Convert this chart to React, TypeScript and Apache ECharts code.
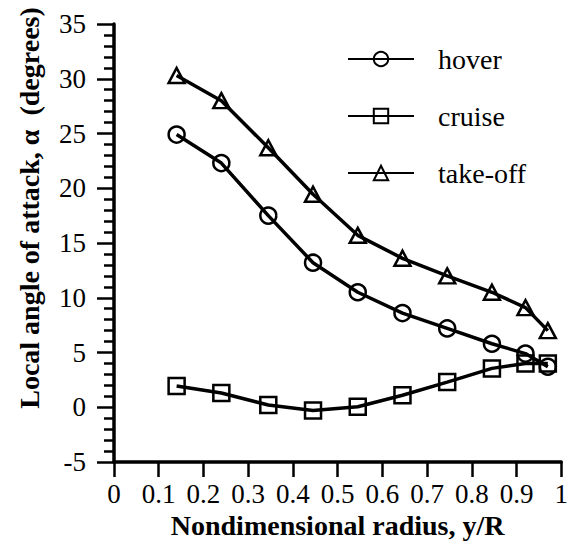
import React, { useEffect, useRef } from "react";
import * as echarts from "echarts";

const radius = [0.14, 0.24, 0.345, 0.445, 0.545, 0.645, 0.745, 0.845, 0.92, 0.97];
const hover = [24.9, 22.3, 17.5, 13.2, 10.5, 8.6, 7.2, 5.8, 4.9, 3.7];
const cruise = [1.95, 1.3, 0.2, -0.3, 0.05, 1.1, 2.3, 3.55, 4.0, 4.0];
const takeoff = [30.3, 28.0, 23.7, 19.45, 15.7, 13.6, 12.0, 10.5, 9.1, 7.0];
const seriesNames = ["hover", "cruise", "take-off"];
const xTitle = "Nondimensional radius, y/R";
const yTitle = "Local angle of attack, \u03b1  (degrees)";

const FONT = "Liberation Serif";

function pairs(ys: number[]) {
  return radius.map((x, i) => [x, ys[i]]);
}

export default function App() {
  const ref = useRef<HTMLDivElement>(null);
  useEffect(() => {
    document.body.style.margin = "0";
    const chart = echarts.init(ref.current!, null, { renderer: "svg" });
    const mk = (name: string, ys: number[], symbol: string, size: any) => ({
      name,
      type: "line",
      data: pairs(ys),
      symbol,
      symbolSize: size,
      showAllSymbol: true,
      lineStyle: { color: "#000", width: 3.5 },
      itemStyle: { color: "rgba(255,255,255,0)", borderColor: "#000", borderWidth: 2.5 },
      emphasis: { disabled: true },
      z: 3,
    });
    chart.setOption({
      animation: false,
      backgroundColor: "#fff",
      textStyle: { fontFamily: FONT },
      grid: { left: 114, right: 3, top: 24, bottom: 87, containLabel: false },
      legend: {
        orient: "vertical",
        left: 342,
        top: 40,
        itemWidth: 66,
        itemHeight: 18,
        itemGap: 29,
        selectedMode: false,
        data: seriesNames,
        textStyle: { fontFamily: FONT, fontSize: 28, color: "#000", padding: [0, 0, 0, 19] },
      },
      xAxis: {
        type: "value",
        min: 0,
        max: 1,
        interval: 0.1,
        name: xTitle,
        nameLocation: "middle",
        nameGap: 32,
        nameTextStyle: { fontFamily: FONT, fontSize: 28, fontWeight: "bold", color: "#000" },
        axisLine: { show: true, onZero: false, lineStyle: { color: "#000", width: 3.5 } },
        axisTick: { show: true, length: 15, lineStyle: { color: "#000", width: 2.5 } },
        axisLabel: {
          fontFamily: FONT,
          fontSize: 27,
          color: "#000",
          margin: 18,
          formatter: (v: number) => String(+v.toFixed(1)),
        },
        splitLine: { show: false },
      },
      yAxis: {
        type: "value",
        min: -5,
        max: 35,
        interval: 5,
        axisLine: { show: true, onZero: false, lineStyle: { color: "#000", width: 3.5 } },
        axisTick: { show: true, length: 17, lineStyle: { color: "#000", width: 2.5 } },
        minorTick: { show: true, splitNumber: 5, length: 10, lineStyle: { color: "#000", width: 2.5 } },
        axisLabel: { fontFamily: FONT, fontSize: 27, color: "#000", margin: 28 },
        splitLine: { show: false },
      },
      graphic: [
        {
          type: "text",
          x: 29,
          y: 208,
          rotation: Math.PI / 2,
          style: {
            text: yTitle,
            fontFamily: FONT,
            fontSize: 28,
            fontWeight: "bold",
            fill: "#000",
            textAlign: "center",
            textVerticalAlign: "middle",
          },
        },
      ],
      series: [
        mk(seriesNames[0], hover, "circle", 16),
        mk(seriesNames[1], cruise, "rect", 16),
        mk(seriesNames[2], takeoff, "triangle", [16, 15]),
      ],
    });
    return () => chart.dispose();
  }, []);
  return <div ref={ref} style={{ width: 571, height: 549 }} />;
}
